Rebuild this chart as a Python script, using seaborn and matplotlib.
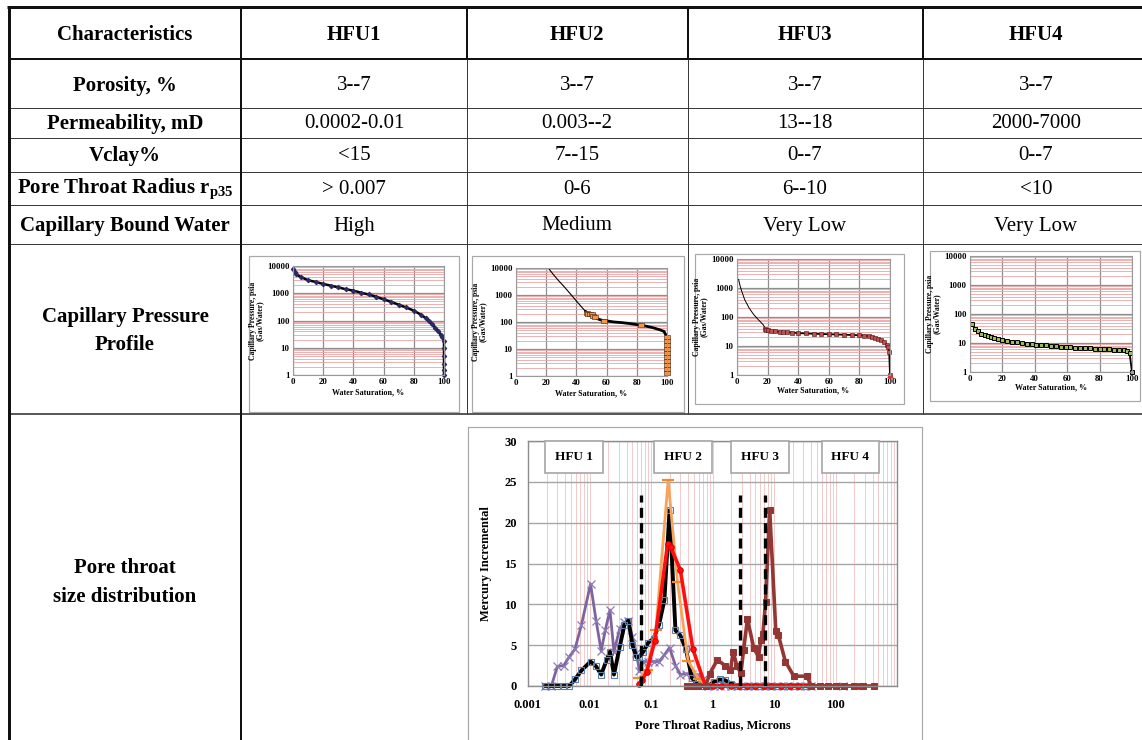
import numpy as np
import matplotlib
matplotlib.use("Agg")
import matplotlib.pyplot as plt
import seaborn as sns
from matplotlib.ticker import FixedLocator, LogLocator, NullFormatter
from matplotlib.patches import Rectangle

sns.set_style("white")
plt.rcParams["font.family"] = ["Liberation Serif", "DejaVu Serif"]
plt.rcParams["mathtext.fontset"] = "custom"
plt.rcParams["mathtext.rm"] = "Liberation Serif"
plt.rcParams["mathtext.bf"] = "Liberation Serif:bold"
plt.rcParams["mathtext.it"] = "Liberation Serif:italic"
for key in ["text.color", "axes.labelcolor", "xtick.color", "ytick.color",
            "xtick.labelcolor", "ytick.labelcolor"]:
    plt.rcParams[key] = "black"

# ---------------- table content ----------------
header = ["Characteristics", "HFU1", "HFU2", "HFU3", "HFU4"]
row_labels = ["Porosity, %", "Permeability, mD", "Vclay%",
              r"Pore Throat Radius r$_{\mathbf{p35}}$", "Capillary Bound Water"]
porosity = ["3--7", "3--7", "3--7", "3--7"]
permeability = ["0.0002-0.01", "0.003--2", "13--18", "2000-7000"]
vclay = ["<15", "7--15", "0--7", "0--7"]
rp35 = ["> 0.007", "0-6", "6--10", "<10"]
bound_water = ["High", "Medium", "Very Low", "Very Low"]

# ---------------- capillary pressure curves (Sw %, Pc psia) ----------------
sw1 = [0, 1, 2, 5, 10, 15, 20, 25, 30, 35, 40, 45, 50, 55, 60, 65, 70, 75, 80, 85,
       88, 90, 92, 94, 96, 98, 99, 100, 100, 100, 100, 100, 100]
pc1 = [8000, 6000, 5000, 4000, 3000, 2600, 2200, 1900, 1650, 1400, 1250, 1050, 900,
       750, 600, 480, 380, 300, 230, 160, 120, 95, 75, 55, 40, 30, 25, 18, 10, 5, 2.5,
       1.5, 1.0]

sw2_thin = [22, 25, 28, 32, 36, 40, 44, 46]
pc2_thin = [9000, 5500, 3500, 2000, 1100, 600, 330, 250]
sw2 = [46, 47, 48, 49, 50, 51, 52, 55, 58, 60, 65, 70, 75, 80, 83, 85, 90, 95, 98, 99,
       100, 100, 100, 100, 100, 100, 100, 100, 100, 100]
pc2 = [250, 220, 200, 190, 200, 170, 150, 125, 112, 110, 100, 95, 88, 80, 76, 72, 63,
       52, 45, 35, 28, 20, 14, 10, 7, 5, 3.5, 2.5, 1.8, 1.3]
sw2_marked = [1, 2, 3, 4, 5, 6, 8, 14, 20, 21, 22, 23, 24, 25, 26, 27, 28, 29]

sw3_thin = [1, 2, 3, 5, 8, 11, 14, 17, 18]
pc3_thin = [2000, 1200, 800, 400, 200, 120, 80, 55, 45]
sw3 = [18, 19, 20, 22, 25, 28, 30, 33, 36, 40, 45, 50, 55, 60, 65, 70, 75, 80, 83, 86,
       88, 90, 92, 94, 96, 98, 99, 99.5, 100]
pc3 = [40, 37, 35, 33, 32, 31, 30, 30, 29, 28, 27, 26.5, 26, 25.5, 25, 24.5, 24, 23.5,
       23, 22, 21, 19.5, 18, 16, 14, 11, 9, 6, 1]

sw4 = [1, 3, 5, 7, 9, 11, 13, 15, 17, 20, 23, 26, 29, 32, 35, 38, 41, 44, 47, 50, 53,
       56, 59, 62, 65, 68, 71, 74, 77, 80, 83, 86, 89, 92, 95, 97, 98.5, 100]
pc4 = [45, 31, 25, 21, 19, 17, 15.5, 14.5, 13.8, 13, 12, 11, 10.5, 10, 9.6, 9.2, 8.8,
       8.5, 8.2, 7.9, 7.6, 7.4, 7.2, 7.0, 6.9, 6.8, 6.6, 6.5, 6.4, 6.3, 6.1, 6.0, 5.8,
       5.7, 5.6, 5.5, 4.5, 1]

sw_ticks = [0, 20, 40, 60, 80, 100]
pc_ticks = [1, 10, 100, 1000, 10000]
pc_tick_labels = ["1", "10", "100", "1000", "10000"]

# ---------------- pore throat size distribution ----------------
r_purple = [0.0019, 0.0024, 0.003, 0.0038, 0.0047, 0.0058, 0.0074, 0.0104, 0.0128,
            0.0155, 0.018, 0.0215, 0.025, 0.031, 0.037, 0.043, 0.05, 0.058, 0.065,
            0.075, 0.09, 0.11, 0.135, 0.165, 0.2, 0.25, 0.3, 0.37, 0.46, 0.57, 0.7,
            0.85, 1.05, 1.3, 1.6, 2.0, 2.5, 3.1, 3.8, 4.7, 5.8, 7.2, 9, 11, 14, 17,
            21, 26, 32, 40, 130]
m_purple = [0, 0, 2.4, 2.5, 3.6, 4.5, 7.5, 12.5, 8.0, 4.3, 6.8, 9.3, 4.2, 7.0, 7.8,
            8.0, 6.0, 4.0, 1.8, 3.0, 3.0, 3.0, 3.0, 3.8, 4.7, 2.5, 1.4, 1.5, 1.5, 1.4,
            0.8, 0, 0, 0, 0, 0, 0, 0, 0, 0, 0, 0, 0, 0, 0, 0, 0, 0, 0, 0, 0]

r_black = [0.0019, 0.0024, 0.003, 0.0038, 0.0047, 0.0058, 0.0074, 0.0104, 0.0128,
           0.0155, 0.019, 0.0215, 0.025, 0.031, 0.037, 0.043, 0.05, 0.058, 0.065,
           0.075, 0.09, 0.11, 0.135, 0.165, 0.2, 0.25, 0.3, 0.37, 0.46, 0.57, 0.7,
           0.85, 1.05, 1.3, 1.6, 2.0, 2.5, 3.1, 3.8, 4.7, 5.8, 7.2, 9, 11, 14, 17,
           21, 26, 32, 40]
m_black = [0, 0, 0, 0, 0, 0.8, 1.9, 3.0, 2.4, 1.4, 3.2, 4.2, 1.4, 4.8, 7.5, 8.0, 5.0,
           3.5, 3.6, 4.2, 5.3, 5.8, 7.5, 10.5, 21.5, 6.8, 6.2, 4.5, 1.0, 0.2, 0, 0,
           0.5, 0.8, 0.7, 0.3, 0, 0, 0, 0, 0, 0, 0, 0, 0, 0, 0, 0, 0, 0]

r_orange = [0.065, 0.085, 0.12, 0.19, 0.27, 0.4, 0.6, 0.85]
m_orange = [1.0, 2.0, 6.9, 25.2, 12.7, 3.1, 0.8, 0]

r_red = [0.065, 0.071, 0.085, 0.115, 0.186, 0.21, 0.3, 0.48, 0.77, 1.0, 1.4, 2.0,
         2.7, 3.6, 5, 6.8, 9, 13, 18, 25, 240]
m_red = [0.3, 0.7, 1.7, 5.5, 17.4, 17.0, 14.2, 4.5, 0, 0, 0, 0, 0, 0, 0, 0, 0, 0, 0,
         0, 0]

r_brown = [0.38, 0.47, 0.58, 0.77, 0.9, 1.2, 1.6, 1.96, 2.17, 2.5, 2.9, 3.2, 3.7,
           4.7, 5.6, 6.1, 6.6, 7.3, 8.5, 10.7, 11.8, 15.3, 21, 34.7, 40, 55, 75,
           100, 140, 200, 275, 415]
m_brown = [0, 0, 0, 0, 1.5, 3.2, 2.5, 1.9, 4.2, 2.4, 1.6, 4.4, 8.2, 4.6, 3.6, 5.6,
           6.4, 10.3, 21.6, 6.7, 6.2, 3.0, 1.2, 1.2, 0, 0, 0, 0, 0, 0, 0, 0]

cutoff_radius = [0.07, 2.75, 7.2]
cutoff_top = 23.4
unit_names = ["HFU 1", "HFU 2", "HFU 3", "HFU 4"]
unit_label_r = [0.0056, 0.33, 6.0, 175]
unit_label_m = 28.0
radius_ticks = [0.001, 0.01, 0.1, 1, 10, 100]
radius_tick_labels = ["0.001", "0.01", "0.1", "1", "10", "100"]
mercury_ticks = [0, 5, 10, 15, 20, 25, 30]

# ---------------- figure & table grid ----------------
W, H = 1142, 740
fig = plt.figure(figsize=(W / 100, H / 100), dpi=100)
bg = fig.add_axes([0, 0, 1, 1])
bg.set_xlim(0, W)
bg.set_ylim(H, 0)
bg.axis("off")

PX = 0.72  # points per pixel


def seg(x0, y0, x1, y1, px, color):
    bg.plot([x0, x1], [y0, y1], color=color, lw=px * PX, solid_capstyle="butt")


col_x = [8.7, 241, 467, 688, 923]
row_y = [7, 59, 108, 138, 172, 205, 244, 414]

# horizontal rules
seg(7, 7, W, 7, 3, "#111111")
seg(8.7, 59, W, 59, 2, "#111111")
for y in row_y[2:7]:
    seg(8.7, y, W, y, 1, "#3a3a3a")
seg(8.7, 414, W, 414, 1.5, "#222222")
# vertical rules
seg(8.7, 5.5, 8.7, H, 3, "#111111")
seg(241, 7, 241, H, 2, "#111111")
for x in col_x[2:]:
    seg(x, 7, x, 59, 2, "#111111")
    seg(x, 59, x, 414, 1, "#3a3a3a")

col_cx = [125, 354, 577, 805, 1036]
for cx, t in zip(col_cx, header):
    bg.text(cx, 35, t, ha="center", va="center", fontsize=15, fontweight="bold")

body_rows = [porosity, permeability, vclay, rp35, bound_water]
body_y = [86, 124, 156, 189, 226]
for label, vals, y in zip(row_labels, body_rows, body_y):
    bg.text(125, y, label, ha="center", va="center", fontsize=15, fontweight="bold")
    for cx, v in zip(col_cx[1:], vals):
        bg.text(cx, y, v, ha="center", va="center", fontsize=15)

bg.text(125, 317, "Capillary Pressure", ha="center", va="center", fontsize=15, fontweight="bold")
bg.text(125, 345, "Profile", ha="center", va="center", fontsize=15, fontweight="bold")
bg.text(125, 568, "Pore throat", ha="center", va="center", fontsize=15, fontweight="bold")
bg.text(125, 597, "size distribution", ha="center", va="center", fontsize=15, fontweight="bold")

# chart frames
frames = [(249, 256, 459, 412), (472, 256, 684, 412), (695, 254, 904, 404),
          (930, 251, 1140, 401), (468, 427, 922, 760)]
for x0, y0, x1, y1 in frames:
    bg.add_patch(Rectangle((x0, y0), x1 - x0, y1 - y0, fill=False,
                           edgecolor="#A8A8A8", lw=1.2 * PX))


def axes_px(x0, y0, x1, y1):
    return fig.add_axes([x0 / W, 1 - y1 / H, (x1 - x0) / W, (y1 - y0) / H])


def mini_axes(box, xlabelpad):
    ax = axes_px(*box)
    ax.set_yscale("log")
    ax.set_xlim(0, 100)
    ax.set_ylim(1, 10000)
    ax.set_xticks(sw_ticks)
    ax.set_yticks(pc_ticks)
    ax.set_yticklabels(pc_tick_labels)
    ax.yaxis.set_minor_locator(LogLocator(base=10, subs=np.arange(2, 10), numticks=20))
    ax.yaxis.set_minor_formatter(NullFormatter())
    ax.grid(which="minor", axis="y", color="#EDA3A3", lw=0.6)
    ax.grid(which="major", axis="both", color="#8E8E8E", lw=0.9)
    ax.set_axisbelow(True)
    ax.tick_params(which="both", length=0, labelsize=6.3, pad=2.5)
    for lbl in ax.get_xticklabels() + ax.get_yticklabels():
        lbl.set_fontweight("bold")
    for s in ax.spines.values():
        s.set_color("#9A9A9A")
        s.set_linewidth(0.8)
    ax.set_xlabel("Water Saturation, %", fontsize=5.8, fontweight="bold", labelpad=xlabelpad)
    ax.set_ylabel("Capillary Pressure, psia\n(Gas/Water)", fontsize=5.5,
                  fontweight="bold", labelpad=2, linespacing=0.95)
    return ax


# HFU1
ax1 = mini_axes((293, 266, 444, 375), 1.5)
sns.lineplot(x=sw1, y=pc1, ax=ax1, sort=False, estimator=None, color="black", lw=1.8,
             marker="D", markersize=2.3, markerfacecolor="#2B2B63",
             markeredgecolor="#2B2B63", clip_on=False)

# HFU2
rect_marker = [(-1, -0.45), (1, -0.45), (1, 0.45), (-1, 0.45), (-1, -0.45)]
ax2 = mini_axes((516, 268, 667, 376), 1.5)
sns.lineplot(x=sw2_thin, y=pc2_thin, ax=ax2, sort=False, estimator=None,
             color="black", lw=0.8)
sns.lineplot(x=sw2, y=pc2, ax=ax2, sort=False, estimator=None, color="black", lw=2.0,
             marker=rect_marker, markersize=5, markevery=sw2_marked,
             markerfacecolor="#F79646", markeredgecolor="#3a2010",
             markeredgewidth=0.4, clip_on=False)

# HFU3
ax3 = mini_axes((737, 259, 890, 375), 0)
sns.lineplot(x=sw3_thin, y=pc3_thin, ax=ax3, sort=False, estimator=None,
             color="black", lw=0.7)
sns.lineplot(x=sw3, y=pc3, ax=ax3, sort=False, estimator=None, color="black", lw=1.3,
             marker="s", markersize=2.6, markerfacecolor="#C0504D",
             markeredgecolor="#4A1010", markeredgewidth=0.4, clip_on=False)
ax3.plot(sw3[-1:], pc3[-1:], marker="^", ms=3.5, color="#E03030", clip_on=False)

# HFU4
ax4 = mini_axes((970, 256, 1132, 372), 0)
sns.lineplot(x=sw4, y=pc4, ax=ax4, sort=False, estimator=None, color="black", lw=1.3,
             marker="s", markersize=3.3, markerfacecolor="#9BBB59",
             markeredgecolor="black", markeredgewidth=0.7, clip_on=False)

# ---------------- pore throat size distribution chart ----------------
axm = axes_px(528, 441, 897, 686)
axm.set_xscale("log")
axm.set_xlim(0.001, 1000)
axm.set_ylim(0, 30)
axm.xaxis.set_major_locator(FixedLocator(radius_ticks))
axm.set_xticklabels(radius_tick_labels)
axm.xaxis.set_minor_locator(LogLocator(base=10, subs=np.arange(2, 10), numticks=30))
axm.xaxis.set_minor_formatter(NullFormatter())
axm.set_yticks(mercury_ticks)
axm.grid(which="both", axis="x", color="#F3CACA", lw=0.7)
axm.grid(which="major", axis="y", color="#A6A6A6", lw=1.0)
axm.set_axisbelow(True)
axm.tick_params(axis="x", which="both", length=0, labelsize=9, pad=9)
axm.tick_params(axis="y", length=3, color="#888888", labelsize=9, pad=5)
for lbl in axm.get_xticklabels() + axm.get_yticklabels():
    lbl.set_fontweight("bold")
for s in axm.spines.values():
    s.set_color("#8C8C8C")
    s.set_linewidth(1.0)
axm.set_xlabel("Pore Throat Radius, Microns", fontsize=9, fontweight="bold", labelpad=6)
axm.set_ylabel("Mercury Incremental", fontsize=9, fontweight="bold", labelpad=9)

sns.lineplot(x=r_purple, y=m_purple, ax=axm, sort=False, estimator=None,
             color="#7E649E", lw=2.0, marker="x", markersize=6,
             markeredgecolor="#8C7BB8", markeredgewidth=0.9, clip_on=False)
sns.lineplot(x=r_black, y=m_black, ax=axm, sort=False, estimator=None,
             color="black", lw=2.8, marker="s", markersize=4,
             markerfacecolor="none", markeredgecolor="#5A7FA8",
             markeredgewidth=0.8, clip_on=False)
sns.lineplot(x=r_orange, y=m_orange, ax=axm, sort=False, estimator=None,
             color="#F7A35C", lw=2.0, marker="_", markersize=8,
             markeredgewidth=1.6, markeredgecolor="#F08A30", clip_on=False)
sns.lineplot(x=r_red, y=m_red, ax=axm, sort=False, estimator=None,
             color="#FF1010", lw=2.6, marker="o", markersize=4,
             markeredgecolor="#E00000", clip_on=False)
sns.lineplot(x=r_brown, y=m_brown, ax=axm, sort=False, estimator=None,
             color="#943634", lw=2.6, marker="s", markersize=4.5,
             markeredgecolor="#943634", clip_on=False)

axm.vlines(cutoff_radius, 0, cutoff_top, colors="black", lw=2.4,
           linestyles=(0, (3, 1.6)), zorder=6)

for name, rx in zip(unit_names, unit_label_r):
    axm.text(rx, unit_label_m, name, ha="center", va="center", fontsize=9.5,
             fontweight="bold", zorder=8,
             bbox=dict(boxstyle="square,pad=0.75", facecolor="white",
                       edgecolor="#A6A6A6", lw=1.2))

fig.savefig("out.png", dpi=100)
